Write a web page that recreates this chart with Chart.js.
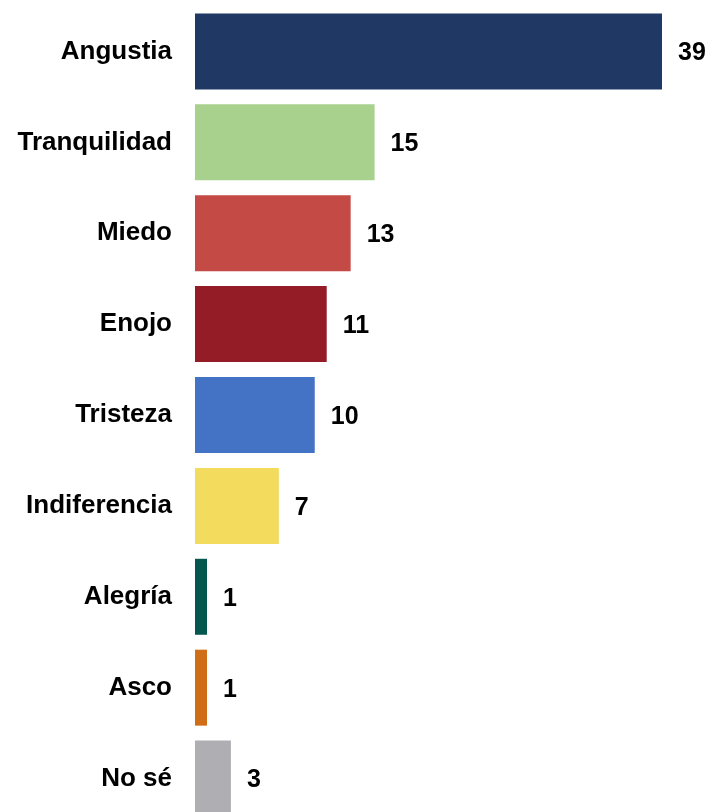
<!DOCTYPE html>
<html>
<head>
<meta charset="utf-8">
<script src="https://cdn.jsdelivr.net/npm/chart.js@4"></script>
<style>
  html, body { margin: 0; padding: 0; background: #ffffff; overflow: hidden; }
  #wrap { position: relative; width: 709px; height: 824px; }
</style>
</head>
<body>
<div id="wrap"><canvas id="emociones"></canvas></div>
<script>
// datos
const categorias = ['Angustia', 'Tranquilidad', 'Miedo', 'Enojo', 'Tristeza', 'Indiferencia', 'Alegría', 'Asco', 'No sé'];
const valores = [39, 15, 13, 11, 10, 7, 1, 1, 3];
const colores = ['#203864', '#A9D18E', '#C44A46', '#931C27', '#4472C4', '#F3DB5D', '#04574E', '#D06E18', '#AFAFB3'];

const fuente = "'Liberation Sans', Arial, sans-serif";

// etiquetas de valor a la derecha de cada barra
const etiquetasValor = {
    id: 'etiquetasValor',
    afterDatasetsDraw(chart) {
        const ctx = chart.ctx;
        const meta = chart.getDatasetMeta(0);
        ctx.save();
        ctx.font = 'bold 25px ' + fuente;
        ctx.fillStyle = '#000000';
        ctx.textAlign = 'left';
        ctx.textBaseline = 'middle';
        meta.data.forEach(function (bar, i) {
            ctx.fillText(String(valores[i]), bar.x + 16, bar.y + 2);
        });
        ctx.restore();
    }
};

new Chart(document.getElementById('emociones'), {
    type: 'bar',
    data: {
        labels: categorias,
        datasets: [{
            data: valores,
            backgroundColor: colores,
            borderWidth: 0,
            barPercentage: 0.836,
            categoryPercentage: 1
        }]
    },
    options: {
        indexAxis: 'y',
        responsive: true,
        maintainAspectRatio: false,
        animation: false,
        layout: { padding: { top: 6, right: 47, bottom: 0, left: 0 } },
        plugins: {
            legend: { display: false },
            tooltip: { enabled: false }
        },
        scales: {
            x: {
                display: false,
                min: 0,
                max: Math.max(...valores)
            },
            y: {
                afterFit: function (scale) {
                    scale.width = 195;
                    scale.paddingTop = 0;
                    scale.paddingBottom = 0;
                },
                grid: { display: false, drawTicks: false },
                border: { display: false },
                ticks: {
                    padding: 23,
                    color: '#000000',
                    font: { family: fuente, size: 26, weight: 'bold' }
                }
            }
        }
    },
    plugins: [etiquetasValor]
});
</script>
</body>
</html>
